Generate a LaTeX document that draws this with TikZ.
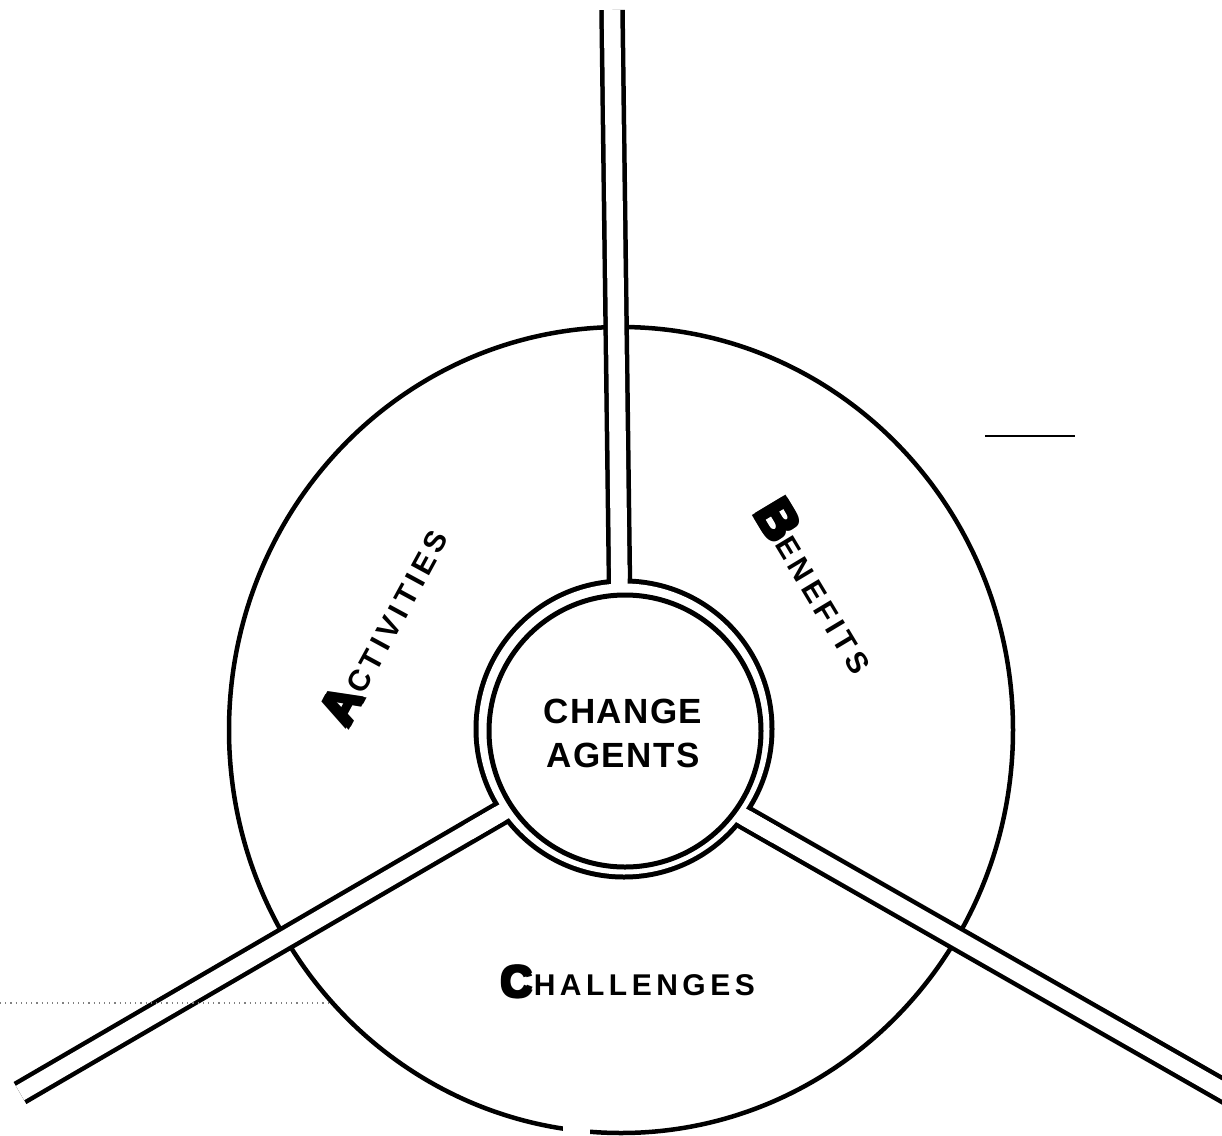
\documentclass[tikz,border=0pt]{standalone}
\usepackage{fontspec}
\newfontfamily\labfont{Liberation Sans Bold}[LetterSpace=15]
\newfontfamily\initfont{Liberation Sans Bold}
\newfontfamily\ctrfont{Liberation Sans Bold}[LetterSpace=4]
\newcommand\heavyglyph[1]{\leavevmode\kern0.9pt%
  \rlap{\kern0.9pt\raisebox{0.9pt}{#1}}\rlap{\kern-0.9pt\raisebox{0.9pt}{#1}}%
  \rlap{\kern0.9pt\raisebox{-0.9pt}{#1}}\rlap{\kern-0.9pt\raisebox{-0.9pt}{#1}}%
  #1\kern0.5pt}
\newcommand\bigini[2]{\raisebox{-1pt}{\initfont\fontsize{#1}{#1}\selectfont\heavyglyph{#2}}}
\newcommand\smlab[1]{{\labfont\fontsize{15}{15}\selectfont #1}}
\usetikzlibrary{calc}
\begin{document}
\begin{tikzpicture}[x=0.5pt,y=-0.5pt,
  ln/.style={line width=2.25pt, draw=black},
  spoke/.style={line width=2.25pt, draw=black, double=white, double distance=8.25pt},
  channel/.style={line width=8.25pt, draw=white},
  lbl/.style={inner sep=0pt}]
\useasboundingbox (0,0) rectangle (1222,1136);
\clip (0,0) rectangle (1222,1136);
% reference points
\coordinate (ring) at (624,729);
\coordinate (hub) at (618,745);
\coordinate (vtop) at (612,10);
\coordinate (vbase) at (621,700);
\coordinate (leftEnd) at (20,1093);
\coordinate (rightEnd) at (1250,1106);
% outer circle
\draw[ln] (621,730) ellipse [x radius=392, y radius=403];
\fill[white] (563,1118) rectangle (590,1136);
% spokes
\draw[spoke] (vbase) -- (vtop);
\draw[spoke] (hub) -- (leftEnd);
\draw[spoke] (hub) -- (rightEnd);
% outer ring
\fill[black] (ring) circle [radius=150.5];
\fill[white] (ring) circle [radius=145.5];
\draw[channel] (vbase) -- (619.2,565);
\draw[channel] (hub) -- ($(hub)!0.25!(leftEnd)$);
\draw[channel] (hub) -- ($(hub)!0.25!(rightEnd)$);
% inner ring
\draw[ln, line width=2.5pt, fill=white] (625,731) circle [radius=136];
% labels
\node[lbl, align=center, font=\ctrfont\fontsize{17.5}{22}\selectfont] (agents) at (623,733) {CHANGE\\AGENTS};
\node[lbl, rotate=61.5] (act) at (384,627) {\bigini{25}{A}\smlab{CTIVITIES}};
\node[lbl, rotate=-59] (ben) at (817,585) {\bigini{26}{B}\smlab{ENEFITS}};
\node[lbl] (chal) at (627,982) {\bigini{22}{C}\smlab{HALLENGES}};
% scan marks
\draw[line width=0.75pt] (985,436) -- (1075,436);
\draw[line width=0.6pt, gray, dotted] (0,1003) -- (330,1003);
\end{tikzpicture}
\end{document}
